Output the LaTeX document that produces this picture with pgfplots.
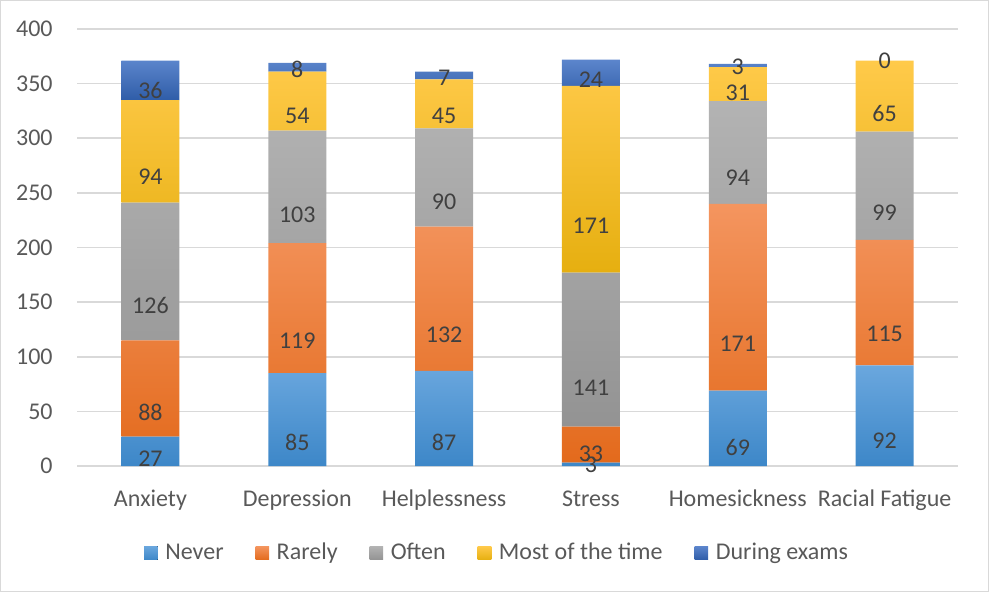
\documentclass[border=0pt]{standalone}
\usepackage{pgfplots}
\pgfplotsset{compat=1.18}
\usepackage{fontspec}
\setmainfont{Carlito}
\definecolor{txt}{HTML}{595959}
\definecolor{lbl}{HTML}{404040}
\definecolor{gridc}{HTML}{D9D9D9}
\definecolor{neverT}{HTML}{6AA7DE}
\definecolor{neverB}{HTML}{3D87C8}
\definecolor{rarelyT}{HTML}{F4955F}
\definecolor{rarelyB}{HTML}{E36A1C}
\definecolor{oftenT}{HTML}{B3B3B3}
\definecolor{oftenB}{HTML}{939393}
\definecolor{mostT}{HTML}{FFCA4A}
\definecolor{mostB}{HTML}{E6AF10}
\definecolor{examT}{HTML}{5C85CC}
\definecolor{examB}{HTML}{2F5DA8}
\begin{document}
\begin{tikzpicture}[x=1bp,y=1bp]
\draw[color=gridc, line width=0.6bp] (0.3,0.3) rectangle (494.2,295.7);
\begin{axis}[
  at={(38.5bp,63bp)}, anchor=south west,
  scale only axis, width=440.5bp, height=218.5bp,
  xmin=-0.5, xmax=5.5, ymin=0, ymax=400,
  ytick={0,50,...,400},
  xtick={0,...,5},
  xticklabels={Anxiety,Depression,Helplessness,Stress,Homesickness,Racial Fatigue},
  ymajorgrids, grid style={gridc, line width=0.75bp},
  axis line style={draw=none}, tick style={draw=none},
  /pgf/number format/assume math mode=true,
  ticklabel style={font=\fontsize{12bp}{14bp}\selectfont, text=txt},
  yticklabel style={anchor=east, inner sep=0pt, xshift=-12bp},
  xticklabel style={anchor=base, inner sep=0pt, yshift=-20bp},
  ybar stacked, bar width=29bp,
  nodes near coords,
  visualization depends on={rawy \as \rawy},
  every node near coord/.append style={anchor=center, font=\fontsize{12bp}{14bp}\selectfont, text=lbl, yshift={-0.1365625bp*\rawy}},
  legend style={at={(0.4779,-0.1991)}, anchor=center, draw=none, fill=none,
    legend columns=5, font=\fontsize{12bp}{14bp}\selectfont, text=txt,
    /tikz/every even column/.append style={column sep=14bp}},
  legend image code/.code={\fill[#1] (0bp,-3.4bp) rectangle (6.8bp,3.4bp); \path (8.6bp,0bp);},
]
\addplot[draw=none, top color=neverT, bottom color=neverB] coordinates {(0,27) (1,85) (2,87) (3,3) (4,69) (5,92)};
\addplot[draw=none, top color=rarelyT, bottom color=rarelyB] coordinates {(0,88) (1,119) (2,132) (3,33) (4,171) (5,115)};
\addplot[draw=none, top color=oftenT, bottom color=oftenB] coordinates {(0,126) (1,103) (2,90) (3,141) (4,94) (5,99)};
\addplot[draw=none, top color=mostT, bottom color=mostB] coordinates {(0,94) (1,54) (2,45) (3,171) (4,31) (5,65)};
\addplot[draw=none, top color=examT, bottom color=examB] coordinates {(0,36) (1,8) (2,7) (3,24) (4,3) (5,0)};
\legend{Never,Rarely,Often,Most of the time,During exams}
\coordinate (zerolbl) at (axis cs:5,371);
\end{axis}
\node[font=\fontsize{12bp}{14bp}\selectfont, text=lbl] at (zerolbl) {0};
\end{tikzpicture}
\end{document}
